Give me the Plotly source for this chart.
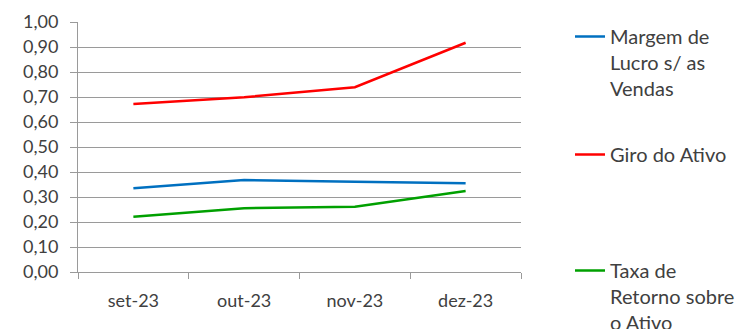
import plotly.graph_objects as go

months = ["set-23", "out-23", "nov-23", "dez-23"]
margem_lucro = [0.335, 0.368, 0.361, 0.355]
giro_ativo = [0.672, 0.699, 0.739, 0.917]
taxa_retorno = [0.221, 0.255, 0.261, 0.324]

FONT = "Lato, Calibri, Carlito, sans-serif"
# page body has an 8px margin, so the figure is sized to the visible area
W, H = 737, 321

series = [
    ("Margem de<br>Lucro s/ as<br>Vendas", margem_lucro, "#0070C0", "legend", 9),
    ("Giro do Ativo", giro_ativo, "#FF0000", "legend2", 127),
    ("Taxa de<br>Retorno sobre<br>o Ativo", taxa_retorno, "#00A000", "legend3", 243),
]

fig = go.Figure()
for name, vals, color, leg, _ in series:
    fig.add_trace(go.Scatter(x=months, y=vals, name=name, mode="lines",
                             line=dict(color=color, width=2.5), legend=leg))

legends = {}
for _, _, _, leg, top in series:
    legends[leg] = dict(xref="container", yref="container", x=562 / W, y=1 - top / H,
                        xanchor="left", yanchor="top", valign="top",
                        font=dict(family=FONT, size=20, color="#404040"),
                        bgcolor="rgba(0,0,0,0)")

fig.update_layout(
    width=W, height=H,
    margin=dict(l=70, r=224, t=14, b=57),
    paper_bgcolor="white", plot_bgcolor="white",
    separators=",.",
    font=dict(family=FONT, size=18, color="#404040"),
    showlegend=True,
    **legends,
)
fig.update_xaxes(
    range=[-0.5, 3.5], automargin=False,
    showgrid=False, showline=True, linecolor="#9a9a9a", linewidth=1,
    ticks="outside", tickson="boundaries", ticklen=6, tickcolor="#9a9a9a",
    ticklabelstandoff=12,
)
fig.update_yaxes(
    range=[0, 1], dtick=0.1, tickformat=".2f", automargin=False,
    showgrid=True, gridcolor="#9a9a9a", gridwidth=1,
    showline=True, linecolor="#9a9a9a", linewidth=1,
    ticks="outside", ticklen=7, tickcolor="#9a9a9a",
    ticklabelstandoff=8, zeroline=False,
)

fig.write_html("out.html")
